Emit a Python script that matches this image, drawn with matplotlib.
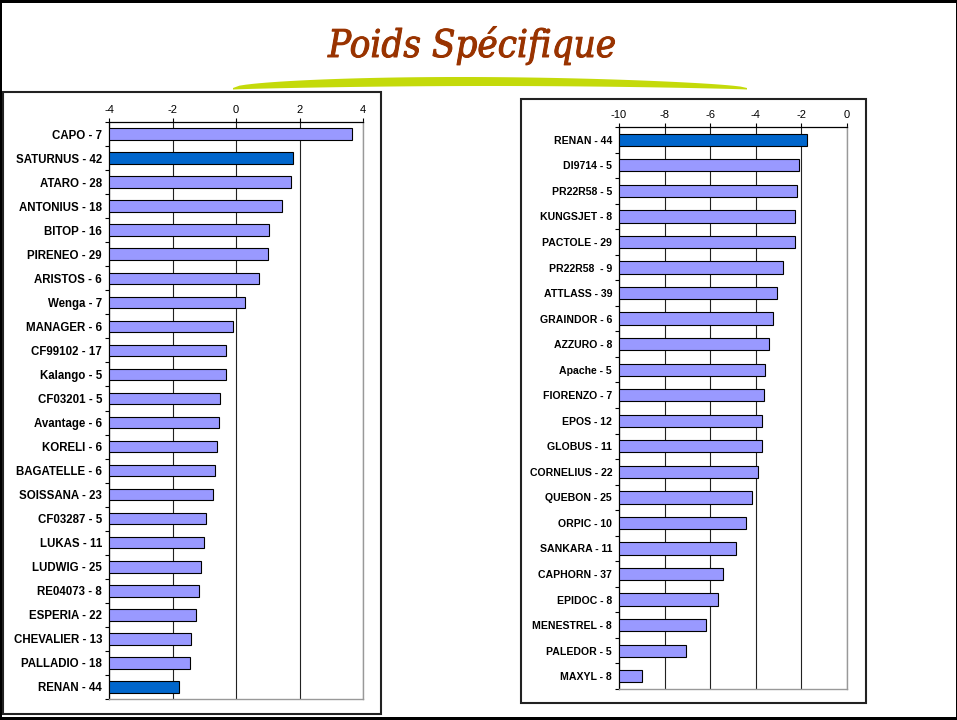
import numpy as np
import matplotlib.pyplot as plt
import matplotlib.patheffects as pe
from matplotlib.patches import Rectangle, Polygon

plt.rcParams['font.family'] = ['Liberation Sans', 'DejaVu Sans']
plt.rcParams['axes.unicode_minus'] = False

# données du graphique de gauche
labels_g = ["CAPO - 7", "SATURNUS - 42", "ATARO - 28", "ANTONIUS - 18", "BITOP - 16",
            "PIRENEO - 29", "ARISTOS - 6", "Wenga - 7", "MANAGER - 6", "CF99102 - 17",
            "Kalango - 5", "CF03201 - 5", "Avantage - 6", "KORELI - 6", "BAGATELLE - 6",
            "SOISSANA - 23", "CF03287 - 5", "LUKAS - 11", "LUDWIG - 25", "RE04073 - 8",
            "ESPERIA - 22", "CHEVALIER - 13", "PALLADIO - 18", "RENAN - 44"]
valeurs_g = [3.65, 1.79, 1.74, 1.44, 1.04, 1.01, 0.72, 0.27, -0.08, -0.33,
             -0.33, -0.50, -0.53, -0.61, -0.65, -0.74, -0.96, -1.02, -1.11, -1.16,
             -1.25, -1.43, -1.46, -1.79]
temoins_g = ["SATURNUS - 42", "RENAN - 44"]

# données du graphique de droite
labels_d = ["RENAN - 44", "DI9714 - 5", "PR22R58 - 5", "KUNGSJET - 8", "PACTOLE - 29",
            "PR22R58  - 9", "ATTLASS - 39", "GRAINDOR - 6", "AZZURO - 8", "Apache - 5",
            "FIORENZO - 7", "EPOS - 12", "GLOBUS - 11", "CORNELIUS - 22", "QUEBON - 25",
            "ORPIC - 10", "SANKARA - 11", "CAPHORN - 37", "EPIDOC - 8", "MENESTREL - 8",
            "PALEDOR - 5", "MAXYL - 8"]
valeurs_d = [-1.76, -2.11, -2.21, -2.26, -2.29, -2.79, -3.08, -3.23, -3.40, -3.59,
             -3.64, -3.71, -3.75, -3.91, -4.18, -4.44, -4.87, -5.44, -5.67, -6.17,
             -7.08, -9.00]
temoins_d = ["RENAN - 44"]

W, H = 957, 720
fig = plt.figure(figsize=(W / 100, H / 100), dpi=100)


def px(x0, y0, x1, y1):
    # rectangle en pixels (haut-gauche) -> coordonnées figure
    return [x0 / W, 1 - y1 / H, (x1 - x0) / W, (y1 - y0) / H]


def panneau(ax, labels, valeurs, temoins, xmin, xmax, pas, taille):
    y = np.arange(len(labels))
    v = np.array(valeurs)
    couleurs = ['#0066CC' if l in temoins else '#9999FF' for l in labels]
    ax.barh(y, v - xmin, left=xmin, height=0.48, color=couleurs,
            edgecolor='black', linewidth=0.8, zorder=3)
    ax.set_ylim(len(labels) - 0.5, -0.5)
    ax.set_xlim(xmin, xmax)
    ax.set_xticks(np.arange(xmin, xmax + 0.1, pas))
    ax.xaxis.tick_top()
    ax.tick_params(axis='x', length=3, width=0.8, labelsize=8, pad=2)
    ax.set_yticks(y)
    ax.set_yticklabels(labels, fontweight='bold', fontsize=taille)
    ax.set_yticks(np.arange(len(labels) + 1) - 0.5, minor=True)
    ax.tick_params(axis='y', which='major', length=0, pad=5)
    ax.tick_params(axis='y', which='minor', length=3, width=0.8)
    ax.grid(axis='x', color='#222222', linewidth=0.8)
    ax.set_axisbelow(True)
    for s in ['right', 'bottom']:
        ax.spines[s].set_color('#999999')
        ax.spines[s].set_linewidth(1.0)
    for s in ['left', 'top']:
        ax.spines[s].set_color('black')
        ax.spines[s].set_linewidth(0.9)


ax1 = fig.add_axes(px(109, 122, 363, 699))
panneau(ax1, labels_g, valeurs_g, temoins_g, -4, 4, 2, 8.3)

ax2 = fig.add_axes(px(619, 127, 847, 689))
panneau(ax2, labels_d, valeurs_d, temoins_d, -10, 0, 2, 7.6)

# cadres des graphiques
for (x0, y0, x1, y1) in [(3, 92, 381, 714), (521, 99, 866, 703)]:
    r = px(x0, y0, x1, y1)
    fig.add_artist(Rectangle((r[0], r[1]), r[2], r[3], transform=fig.transFigure,
                             fill=False, edgecolor='#222222', linewidth=1.5))

# bordure de la diapositive
fig.add_artist(Rectangle((0, 1 - 3 / H), 1, 3 / H, transform=fig.transFigure,
                         color='black', linewidth=0))
fig.add_artist(Rectangle((0, 0), 1, 3 / H, transform=fig.transFigure,
                         color='black', linewidth=0))
fig.add_artist(Rectangle((0, 0), 1.5 / W, 1, transform=fig.transFigure,
                         color='black', linewidth=0))
fig.add_artist(Rectangle((1 - 1.5 / W, 0), 1.5 / W, 1, transform=fig.transFigure,
                         color='black', linewidth=0))

# trait vert sous le titre
xs = np.linspace(233, 747, 80)
t = (xs - 233) / (747 - 233)
haut = 88 - 11 * np.sin(np.pi * t ** 0.85) ** 0.6
bas = 89.5 - 3.5 * np.sin(np.pi * t) ** 0.8
pts = np.concatenate([np.column_stack([xs, haut]), np.column_stack([xs[::-1], bas[::-1]])])
pts = np.column_stack([pts[:, 0] / W, 1 - pts[:, 1] / H])
fig.add_artist(Polygon(pts, closed=True, transform=fig.transFigure,
                       facecolor='#C4DA0A', edgecolor='none'))

fig.text(0.4935, 1 - 46 / H, "Poids Spécifique", ha='center', va='center',
         fontsize=27.5, style='italic', stretch='condensed',
         family=['DejaVu Serif'], color='#993300',
         path_effects=[pe.withStroke(linewidth=0.7, foreground='#993300')])

plt.savefig("out.png", dpi=100)
